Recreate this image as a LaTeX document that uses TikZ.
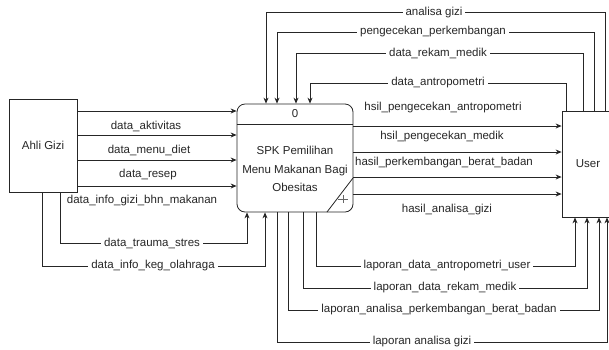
\documentclass[tikz,border=0pt]{standalone}
\usepackage{fontspec}
\setmainfont{Liberation Sans}
\usetikzlibrary{arrows.meta}
\begin{document}
\begin{tikzpicture}[x=1pt,y=-1pt,
  every node/.style={font=\fontsize{11.5}{14}\selectfont, inner sep=1pt, text=black!85},
  box/.style={draw=black!85, line width=0.8pt},
  flow/.style={draw=black!85, line width=0.8pt, -{Stealth[length=6pt,width=5pt]}},
  lbl/.style={fill=white, inner xsep=3pt, inner ysep=1pt}]
\useasboundingbox (0,0) rectangle (609,349);
\fill[white] (0,0) rectangle (609,349);

% entities and process
\node[box, minimum width=68pt, minimum height=93pt] (ahli) at (43,145.5) {Ahli Gizi};
\node[box, rounded corners=8pt, minimum width=116pt, minimum height=108pt] (proc) at (295,158) {};
\node[box, minimum width=60pt, minimum height=106pt] (user) at (592,164) {};
\node (usertext) at (588,164) {User};
\node (pid) at (295,114) {0};
\node[align=center, font=\fontsize{11.5}{18.5}\selectfont] (pname) at (295,169) {SPK Pemilihan\\Menu Makanan Bagi\\Obesitas};
\draw[box] (proc.west |- 0,124) -- (proc.east |- 0,124);
\draw[box] (327,212) -- (353,178);
\draw[line width=0.5pt, black!60] (338,199) -- (348,199) (343,195) -- (343,203);

% Ahli Gizi -> process
\draw[flow] (ahli.east |- 0,111) -- (proc.west |- 0,111);
\node (l1) at (146,126) {data\_aktivitas};
\draw[flow] (ahli.east |- 0,135) -- (proc.west |- 0,135);
\node (l2) at (149,150) {data\_menu\_diet};
\draw[flow] (ahli.east |- 0,160) -- (proc.west |- 0,160);
\node (l3) at (148,175) {data\_resep};
\draw[flow] (ahli.east |- 0,186) -- (proc.west |- 0,186);
\node (l4) at (142,201) {data\_info\_gizi\_bhn\_makanan};

\draw[flow] (ahli.south -| 60,0) |- (247,243) -- (proc.south -| 247,0);
\node[lbl] (l5) at (152,243) {data\_trauma\_stres};
\draw[flow] (ahli.south -| 42,0) |- (265,266) -- (proc.south -| 265,0);
\node[lbl] (l6) at (153,266) {data\_info\_keg\_olahraga};

% User -> process (top)
\draw[flow] (user.north -| 605,0) |- (266,12) -- (proc.north -| 266,0);
\node[lbl] (t1) at (434,13) {analisa gizi};
\draw[flow] (user.north -| 594,0) |- (277,32) -- (proc.north -| 277,0);
\node[lbl] (t2) at (433,32) {pengecekan\_perkembangan};
\draw[flow] (user.north -| 583,0) |- (296,53) -- (proc.north -| 296,0);
\node[lbl] (t3) at (438,53) {data\_rekam\_medik};
\draw[flow] (user.north -| 566,0) |- (310,83) -- (proc.north -| 310,0);
\node[lbl] (t4) at (438,83) {data\_antropometri};

% process -> User (right)
\draw[flow] (proc.east |- 0,126) -- (user.west |- 0,126);
\node (r1) at (443,108) {hsil\_pengecekan\_antropometri};
\draw[flow] (proc.east |- 0,152) -- (user.west |- 0,152);
\node (r2) at (442,137) {hsil\_pengecekan\_medik};
\draw[flow] (proc.east |- 0,177) -- (user.west |- 0,177);
\node (r3) at (444,163) {hasil\_perkembangan\_berat\_badan};
\draw[flow] (proc.east |- 0,194) -- (user.west |- 0,194);
\node (r4) at (447,210) {hasil\_analisa\_gizi};

% process -> User (bottom)
\draw[flow] (proc.south -| 316,0) |- (575,266) -- (user.south -| 575,0);
\node[lbl] (b1) at (447,266) {laporan\_data\_antropometri\_user};
\draw[flow] (proc.south -| 303,0) |- (587,288) -- (user.south -| 587,0);
\node[lbl] (b2) at (445,288) {laporan\_data\_rekam\_medik};
\draw[flow] (proc.south -| 288,0) |- (599,310) -- (user.south -| 599,0);
\node[lbl] (b3) at (439,310) {laporan\_analisa\_perkembangan\_berat\_badan};
\draw[flow] (proc.south -| 277,0) |- (607,342) -- (user.south -| 607,0);
\node[lbl] (b4) at (422,342) {laporan analisa gizi};
\end{tikzpicture}
\end{document}
